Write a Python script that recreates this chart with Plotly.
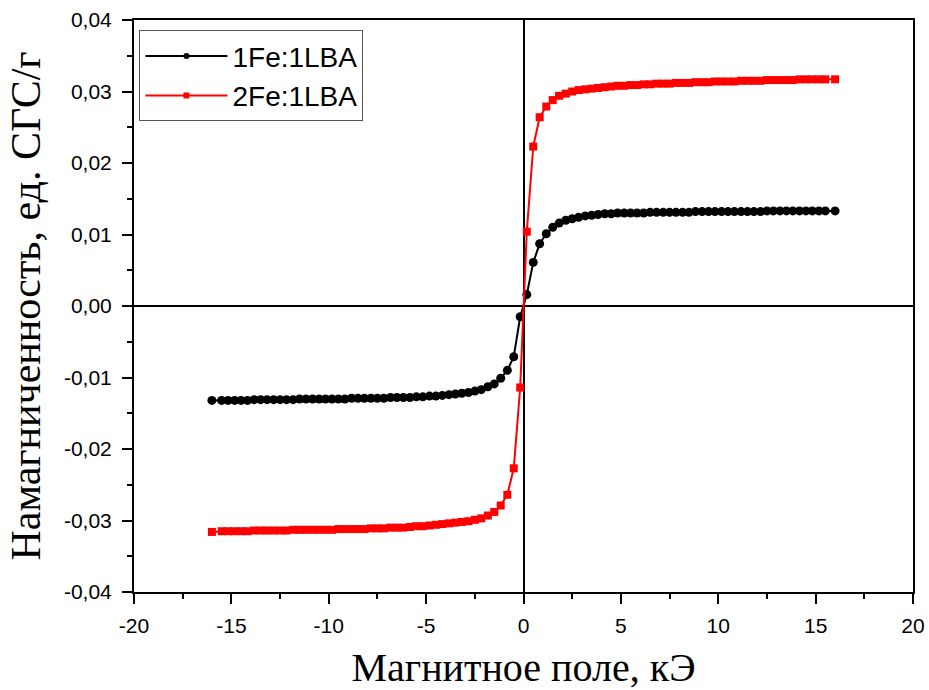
import plotly.graph_objects as go

# Magnetic field, kOe
field = [
    -16.0, -15.5, -15.17, -14.83, -14.5, -14.17, -13.83, -13.5, -13.17, -12.83,
    -12.5, -12.17, -11.83, -11.5, -11.17, -10.83, -10.5, -10.17, -9.83, -9.5,
    -9.17, -8.83, -8.5, -8.17, -7.83, -7.5, -7.17, -6.83, -6.5, -6.17,
    -5.83, -5.5, -5.17, -4.83, -4.5, -4.17, -3.83, -3.5, -3.17, -2.83,
    -2.5, -2.17, -1.83, -1.5, -1.17, -0.83, -0.5, -0.17,
    0.17, 0.5, 0.83, 1.17, 1.5, 1.83, 2.17, 2.5, 2.83, 3.17,
    3.5, 3.83, 4.17, 4.5, 4.83, 5.17, 5.5, 5.83, 6.17, 6.5,
    6.83, 7.17, 7.5, 7.83, 8.17, 8.5, 8.83, 9.17, 9.5, 9.83,
    10.17, 10.5, 10.83, 11.17, 11.5, 11.83, 12.17, 12.5, 12.83, 13.17,
    13.5, 13.83, 14.17, 14.5, 14.83, 15.17, 15.5, 16.0,
]

# Magnetization, emu/g — sample 1Fe:1LBA
m_1fe = [
    -0.0132, -0.0132, -0.0132, -0.0132, -0.0132, -0.0132, -0.0131, -0.0131, -0.0131, -0.0131,
    -0.0131, -0.0131, -0.0131, -0.0130, -0.0130, -0.0130, -0.0130, -0.0130, -0.0130, -0.0130,
    -0.0130, -0.0129, -0.0129, -0.0129, -0.0129, -0.0129, -0.0129, -0.0128, -0.0128, -0.0128,
    -0.0128, -0.0127, -0.0127, -0.0126, -0.0126, -0.0125, -0.0124, -0.0123, -0.0122, -0.0121,
    -0.0119, -0.0117, -0.0113, -0.0109, -0.0101, -0.0090, -0.0071, -0.0015,
    0.0016, 0.0061, 0.0087, 0.0101, 0.0110, 0.0116, 0.0120, 0.0122, 0.0124, 0.0126,
    0.0127, 0.0128, 0.0129, 0.0129, 0.0130, 0.0130, 0.0130, 0.0130, 0.0130, 0.0131,
    0.0131, 0.0131, 0.0131, 0.0131, 0.0131, 0.0131, 0.0132, 0.0132, 0.0132, 0.0132,
    0.0132, 0.0132, 0.0132, 0.0132, 0.0132, 0.0132, 0.0132, 0.0133, 0.0133, 0.0133,
    0.0133, 0.0133, 0.0133, 0.0133, 0.0133, 0.0133, 0.0133, 0.0133,
]

# Magnetization, emu/g — sample 2Fe:1LBA
m_2fe = [
    -0.0316, -0.0315, -0.0315, -0.0315, -0.0315, -0.0315, -0.0314, -0.0314, -0.0314, -0.0314,
    -0.0314, -0.0314, -0.0313, -0.0313, -0.0313, -0.0313, -0.0313, -0.0313, -0.0313, -0.0312,
    -0.0312, -0.0312, -0.0312, -0.0312, -0.0311, -0.0311, -0.0311, -0.0310, -0.0310, -0.0310,
    -0.0309, -0.0308, -0.0308, -0.0307, -0.0306, -0.0305, -0.0304, -0.0303, -0.0302, -0.0301,
    -0.0299, -0.0297, -0.0293, -0.0288, -0.0279, -0.0264, -0.0227, -0.0114,
    0.0104, 0.0223, 0.0264, 0.0279, 0.0288, 0.0294, 0.0297, 0.0300, 0.0302, 0.0303,
    0.0304, 0.0305, 0.0306, 0.0307, 0.0308, 0.0308, 0.0309, 0.0309, 0.0310, 0.0310,
    0.0311, 0.0311, 0.0311, 0.0312, 0.0312, 0.0312, 0.0313, 0.0313, 0.0313, 0.0314,
    0.0314, 0.0314, 0.0314, 0.0315, 0.0315, 0.0315, 0.0315, 0.0316, 0.0316, 0.0316,
    0.0316, 0.0316, 0.0317, 0.0317, 0.0317, 0.0317, 0.0317, 0.0317,
]

x_ticks = [-20, -15, -10, -5, 0, 5, 10, 15, 20]
x_tick_text = ["-20", "-15", "-10", "-5", "0", "5", "10", "15", "20"]
y_ticks = [-0.04, -0.03, -0.02, -0.01, 0.0, 0.01, 0.02, 0.03, 0.04]
y_tick_text = ["-0,04", "-0,03", "-0,02", "-0,01", "0,00", "0,01", "0,02", "0,03", "0,04"]

series = [
    ("1Fe:1LBA", m_1fe, "black", "circle", 9),
    ("2Fe:1LBA", m_2fe, "#ff0000", "square", 8),
]

fig = go.Figure()
for name, values, color, symbol, size in series:
    # data curve
    fig.add_trace(go.Scatter(
        x=field, y=values, name=name, mode="lines+markers", showlegend=False,
        line=dict(color=color, width=2),
        marker=dict(symbol=symbol, size=size, color=color),
    ))
    # legend entry with a small symbol in the middle of the line sample
    fig.add_trace(go.Scatter(
        x=[None], y=[None], name=name, mode="lines+markers",
        line=dict(color=color, width=2),
        marker=dict(symbol=symbol, size=6, color=color),
    ))

tick_font = dict(family="Liberation Sans, Arial, sans-serif", size=21, color="black")
title_family = "Liberation Serif, Times New Roman, serif"

axis_common = dict(
    showgrid=False, automargin=False,
    showline=True, linecolor="black", linewidth=2, mirror=True,
    ticks="outside", ticklen=10, tickwidth=2, tickcolor="black",
    zeroline=True, zerolinecolor="black", zerolinewidth=2,
    tickfont=tick_font,
)

fig.update_xaxes(
    **axis_common,
    range=[-20, 20], tickvals=x_ticks, ticktext=x_tick_text,
    ticklabelstandoff=4,
    minor=dict(ticks="outside", ticklen=5, tickwidth=2, tickcolor="black", dtick=2.5),
    title=dict(text="Магнитное поле, кЭ", standoff=18,
               font=dict(family=title_family, size=40, color="black")),
)
fig.update_yaxes(
    **axis_common,
    range=[-0.04, 0.04], tickvals=y_ticks, ticktext=y_tick_text,
    ticklabelstandoff=6,
    minor=dict(ticks="outside", ticklen=5, tickwidth=2, tickcolor="black", dtick=0.005),
    title=dict(text="Намагниченность, ед. СГС/г", standoff=10,
               font=dict(family=title_family, size=42, color="black")),
)

fig.update_layout(
    width=929, height=690,
    margin=dict(l=134, r=16, t=20, b=98),
    plot_bgcolor="white", paper_bgcolor="white",
    showlegend=True,
    legend=dict(
        x=0.007, y=0.982, xanchor="left", yanchor="top",
        bgcolor="white", bordercolor="#555555", borderwidth=1,
        font=dict(family="Liberation Sans, Arial, sans-serif", size=28, color="black"),
        itemwidth=82, tracegroupgap=0,
    ),
)

fig.write_html("out.html")
